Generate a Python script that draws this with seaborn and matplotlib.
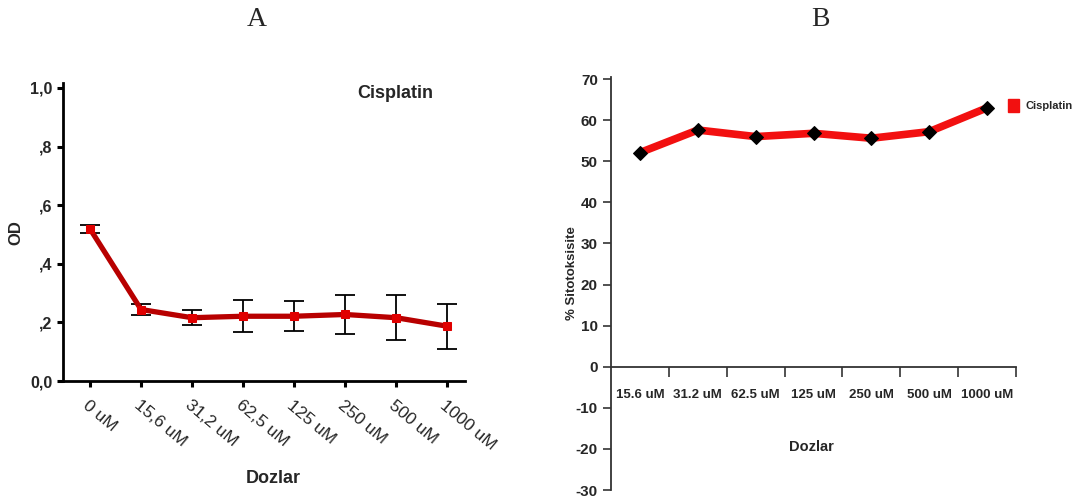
import matplotlib
matplotlib.use("Agg")
import matplotlib.pyplot as plt
import seaborn as sns
import pandas as pd
from matplotlib.patches import Patch

# ---- Data: panel A ----
doses_a = ["0 uM", "15,6 uM", "31,2 uM", "62,5 uM", "125 uM", "250 uM", "500 uM", "1000 uM"]
od_mean = [0.519, 0.244, 0.216, 0.221, 0.221, 0.227, 0.216, 0.187]
od_err = [0.015, 0.020, 0.025, 0.054, 0.051, 0.068, 0.077, 0.077]
yticks_a = [0.0, 0.2, 0.4, 0.6, 0.8, 1.0]
yticklabels_a = ["0,0", ",2", ",4", ",6", ",8", "1,0"]

# ---- Data: panel B ----
doses_b = ["15.6 uM", "31.2 uM", "62.5 uM", "125 uM", "250 uM", "500 uM", "1000 uM"]
cyto = [52.1, 57.6, 56.0, 56.8, 55.6, 57.2, 63.0]
yticks_b = [-30, -20, -10, 0, 10, 20, 30, 40, 50, 60, 70]

sns.set_style("ticks")
plt.rcParams["font.family"] = ["Liberation Sans", "DejaVu Sans"]

W, H = 1080, 499
fig = plt.figure(figsize=(W / 100, H / 100), dpi=100)

def frac(l, t, r, b):
    return [l / W, 1 - b / H, (r - l) / W, (b - t) / H]

# ================= Panel A =================
axA = fig.add_axes(frac(63, 83, 465, 381))
dfA = pd.DataFrame({"pos": range(len(doses_a)), "od": od_mean})
axA.errorbar(dfA["pos"], od_mean, yerr=od_err, fmt="none", ecolor="black",
             elinewidth=1.3, capsize=7.2, capthick=1.3, zorder=2)
sns.lineplot(data=dfA, x="pos", y="od", ax=axA, color="#b80000", lw=3.8,
             marker="s", markersize=6, markerfacecolor="#e00000",
             markeredgecolor="#e00000", zorder=3)
axA.set_xlim(-0.53, 7.35)
axA.set_ylim(0, 1.017)
axA.tick_params(axis="both", direction="out", length=4, width=2.2, color="black")
axA.tick_params(axis="x", pad=8)
axA.set_yticks(yticks_a)
axA.set_yticklabels(yticklabels_a, fontsize=11.5, fontweight="bold")
axA.set_xticks(range(len(doses_a)))
axA.set_xticklabels(doses_a, fontsize=12.5, rotation=-40, ha="left", va="top",
                    rotation_mode="anchor")
for s in ["top", "right"]:
    axA.spines[s].set_visible(False)
for s in ["left", "bottom"]:
    axA.spines[s].set_linewidth(2)
    axA.spines[s].set_color("black")
axA.set_xlabel("Dozlar", fontsize=13, fontweight="bold")
axA.xaxis.set_label_coords(0.522, -0.326)
axA.xaxis.label.set_va("center")
axA.set_ylabel("OD", fontsize=12, fontweight="bold")
axA.yaxis.set_label_coords(-0.116, 0.497)
axA.yaxis.label.set_va("center")
axA.text(0.826, 0.966, "Cisplatin", transform=axA.transAxes, fontsize=13,
         fontweight="bold", ha="center", va="center")

# ================= Panel B =================
axB = fig.add_axes(frac(611, 77, 1016, 490))
dfB = pd.DataFrame({"pos": range(len(doses_b)), "cyto": cyto})
sns.lineplot(data=dfB, x="pos", y="cyto", ax=axB, color="#f21010", lw=5.5,
             marker="D", markersize=7.5, markerfacecolor="black",
             markeredgecolor="black", zorder=3)
axB.spines["bottom"].set_position(("data", 0))
for s in ["top", "right"]:
    axB.spines[s].set_visible(False)
for s in ["left", "bottom"]:
    axB.spines[s].set_linewidth(1.3)
    axB.spines[s].set_color("#333333")
axB.set_xlim(-0.5, len(doses_b) - 0.5)
axB.set_ylim(-30, 70.5)
axB.set_xticks([i + 0.5 for i in range(len(doses_b))])
axB.set_xticks(range(len(doses_b)), minor=True)
axB.tick_params(axis="x", which="minor", length=0, pad=16)
axB.tick_params(axis="x", which="major", direction="out", length=7, width=1.2,
                color="#333333")
axB.tick_params(axis="y", direction="out", length=6, width=1.2, color="#333333")
axB.set_yticks(yticks_b)
axB.set_yticklabels([str(v) for v in yticks_b], fontsize=11, fontweight="bold")
axB.set_xticklabels([])
axB.set_xticklabels(doses_b, minor=True, fontsize=9.5, fontweight="bold")
axB.set_xlabel("Dozlar", fontsize=10.5, fontweight="bold")
axB.xaxis.set_label_coords(0.496, 0.104)
axB.xaxis.label.set_va("center")
axB.set_ylabel("% Sitotoksisite", fontsize=9.5, fontweight="bold")
axB.yaxis.set_label_coords(-0.096, 0.525)
axB.yaxis.label.set_va("center")
handle = Patch(facecolor="#f21010", edgecolor="#f21010", label="Cisplatin")
leg = axB.legend(handles=[handle], loc="center left", bbox_to_anchor=(0.98, 0.932),
                 frameon=False, borderpad=0, borderaxespad=0, handlelength=1.0,
                 handleheight=1.4, handletextpad=0.6,
                 prop={"weight": "bold", "size": 8})

# ---- Panel titles ----
fig.text(257 / W, 1 - 19 / H, "A", family=["Liberation Serif", "DejaVu Serif"],
         fontsize=20, ha="center", va="center")
fig.text(820 / W, 1 - 19 / H, "B", family=["Liberation Serif", "DejaVu Serif"],
         fontsize=20, ha="center", va="center")

fig.savefig("out.png", dpi=100)
